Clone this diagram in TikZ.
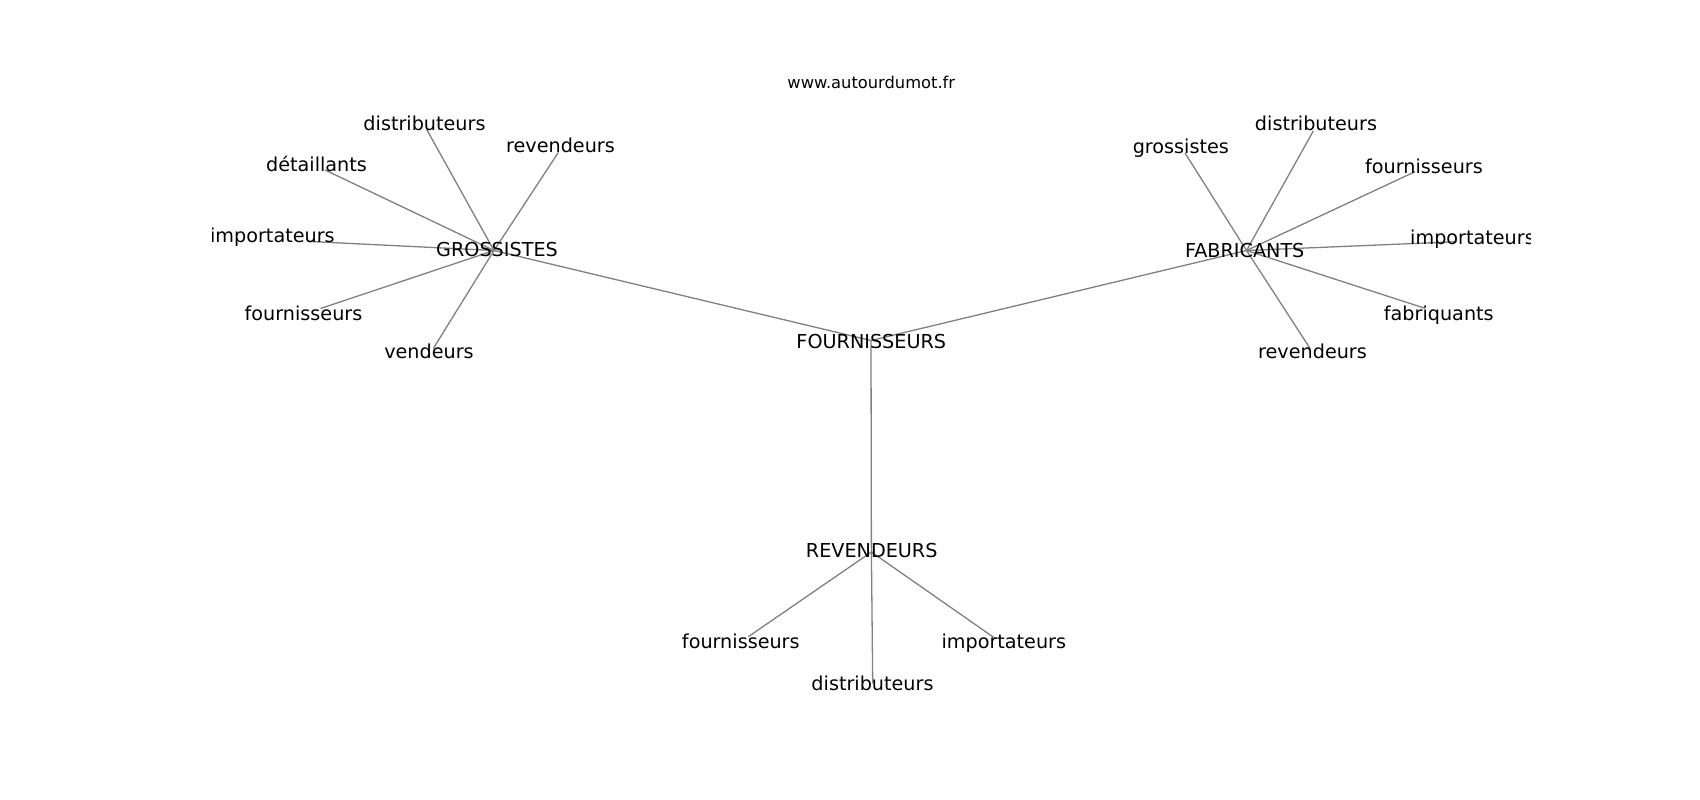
\documentclass[tikz,border=0pt]{standalone}
\usepackage{fontspec}
\setmainfont{DejaVu Sans}
\begin{document}
\begin{tikzpicture}[x=1pt,y=-1pt,
  lbl/.style={inner sep=0pt,anchor=base,font=\fontsize{19.2}{23}\selectfont},
  ttl/.style={inner sep=0pt,anchor=base,font=\fontsize{16.3}{20}\selectfont},
  edge/.style={draw={rgb,255:red,128;green,128;blue,128},line width=1.3pt}]
\useasboundingbox (0,0) rectangle (1700,800);
% edge points
\coordinate (g) at (494,250.5);
\coordinate (f) at (1246.5,250.5);
\coordinate (c) at (871,340.5);
\coordinate (r) at (871.4,552);
\coordinate (g1) at (426.7,129.5);
\coordinate (g2) at (558.3,152.5);
\coordinate (g3) at (325,170);
\coordinate (g4) at (310,241.5);
\coordinate (g5) at (320.5,308.5);
\coordinate (g6) at (433.3,348.5);
\coordinate (f1) at (1185,153);
\coordinate (f2) at (1313.3,131);
\coordinate (f3) at (1415,171.7);
\coordinate (f4) at (1456.7,241.7);
\coordinate (f5) at (1425,308.3);
\coordinate (f6) at (1310,348.3);
\coordinate (r1) at (748.3,636.7);
\coordinate (r2) at (995,638.3);
\coordinate (r3) at (872.7,683.3);
\begin{scope}
\clip (212.5,96) rectangle (1530,712);
\foreach \a/\b in {g/c,f/c,c/r,g/g1,g/g2,g/g3,g/g4,g/g5,g/g6,f/f1,f/f2,f/f3,f/f4,f/f5,f/f6,r/r1,r/r2,r/r3}
  \draw[edge] (\a) -- (\b);
\node[lbl] (tg) at (497,256.7) {GROSSISTES};
\node[lbl] (tf) at (1244.7,257.3) {FABRICANTS};
\node[lbl] (tc) at (871.3,348) {FOURNISSEURS};
\node[lbl] (tr) at (871.7,557.3) {REVENDEURS};
\node[lbl] (tg1) at (424.5,130.5) {distributeurs};
\node[lbl] (tg2) at (560.5,152.3) {revendeurs};
\node[lbl] (tg3) at (316.5,171.7) {détaillants};
\node[lbl] (tg4) at (272.4,242.7) {importateurs};
\node[lbl] (tg5) at (303.5,320) {fournisseurs};
\node[lbl] (tg6) at (429,358.3) {vendeurs};
\node[lbl] (tf1) at (1180.8,153.3) {grossistes};
\node[lbl] (tf2) at (1316,130.7) {distributeurs};
\node[lbl] (tf3) at (1424,173.3) {fournisseurs};
\node[lbl] (tf4) at (1472.5,244) {importateurs};
\node[lbl] (tf5) at (1438.8,320) {fabriquants};
\node[lbl] (tf6) at (1312.5,358.3) {revendeurs};
\node[lbl] (tr1) at (740.8,648.3) {fournisseurs};
\node[lbl] (tr2) at (1003.8,648.3) {importateurs};
\node[lbl] (tr3) at (872.5,690) {distributeurs};
\end{scope}
\node[ttl] (title) at (871.3,88.3) {www.autourdumot.fr};
\end{tikzpicture}
\end{document}
